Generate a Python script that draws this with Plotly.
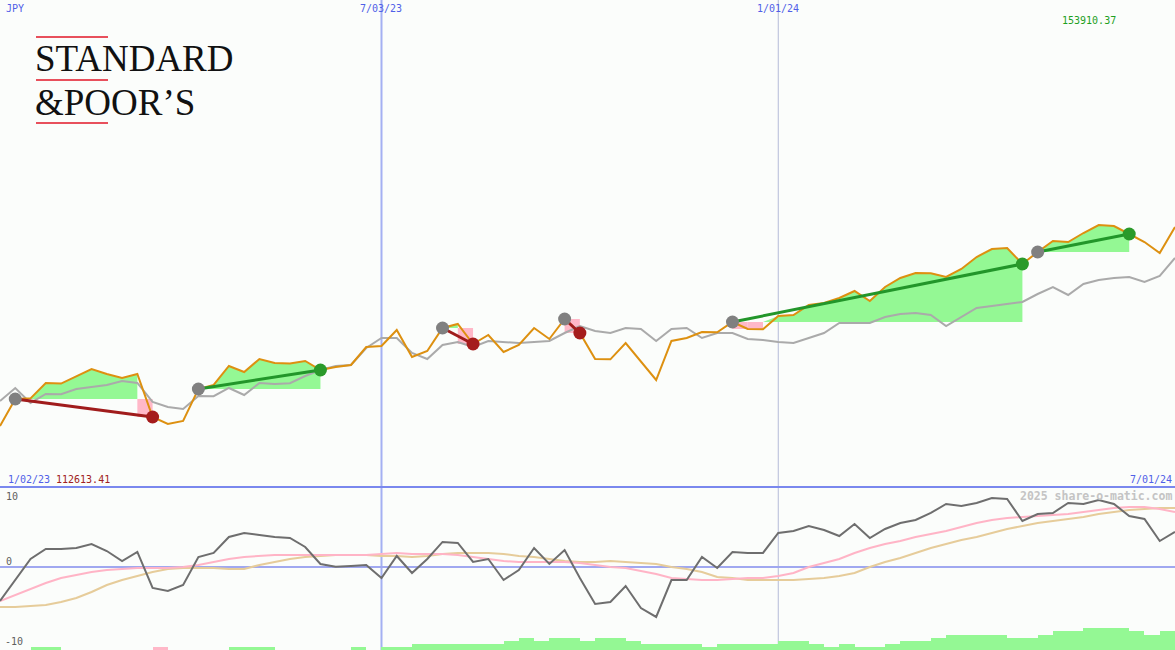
import plotly.graph_objects as go
import pandas as pd

# ---------------- data (weekly) ----------------
dates = pd.date_range("2023-01-09", periods=78, freq="7D")

close = [112613.41, 118220, 118350, 121540, 121420, 122992, 124445, 123407, 122577, 123407,
         114485, 113032, 113655, 120295, 121125, 125067, 123822, 126520, 125690, 125600,
         126105, 124237, 124860, 125275, 129010, 129217, 132537, 126935, 128180, 132952,
         133782, 129632, 131500, 127972, 129425, 132952, 130670, 134820, 131915, 126520,
         126450, 129840, 125897, 122162, 130255, 130877, 132122, 132050, 134197, 132745,
         132700, 135442, 135650, 137725, 138140, 139177, 140630, 138555, 141460, 143327,
         144365, 144300, 143535, 145195, 147685, 149345, 149552, 146232, 148722, 151005,
         150797, 152665, 154325, 154117, 152457, 150797, 148515, 153910.37]

avg = [117805, 120502, 117390, 119257, 119200, 120295, 120710, 121125, 121955, 121540,
       117597, 116560, 116145, 118842, 118800, 120502, 119050, 121540, 121332, 121500,
       122992, 124237, 125067, 125275, 128802, 130877, 130850, 127765, 126520, 129425,
       130047, 129010, 130255, 130047, 129840, 130047, 130255, 131915, 133367, 132330,
       131915, 132952, 132745, 130255, 132745, 132952, 130877, 131915, 131900, 130670,
       130462, 130047, 129840, 130877, 131915, 133990, 133950, 133990, 135235, 135857,
       136065, 135650, 133367, 135235, 137102, 137517, 137932, 138347, 140007, 141460,
       139800, 142082, 142912, 143327, 143535, 142497, 143742, 147477]

momentum = [-4.39, -1.68, 1.03, 2.32, 2.32, 2.45, 2.97, 2.06, 0.77, 1.94,
            -2.71, -3.10, -2.32, 1.29, 1.81, 3.87, 4.39, 4.13, 3.87, 3.74,
            2.58, 0.39, 0.04, 0.13, 0.26, -1.42, 1.42, -0.77, 1.03, 3.23,
            3.10, 0.65, 1.03, -1.68, -0.39, 2.45, 0.39, 2.19, -1.42, -4.77,
            -4.52, -2.45, -5.29, -6.45, -1.68, -1.68, 1.29, -0.13, 1.94, 1.81,
            1.81, 4.39, 4.65, 5.29, 4.77, 4.00, 5.55, 3.74, 4.90, 5.68,
            6.06, 6.97, 8.13, 7.87, 8.26, 8.90, 8.77, 5.94, 6.84, 6.97,
            8.26, 8.13, 8.65, 8.13, 6.58, 6.19, 3.35, 4.52]

mom_fast = [-4.39, -3.61, -2.84, -2.06, -1.42, -1.03, -0.65, -0.39, -0.26, -0.13,
            -0.13, -0.13, 0.0, 0.26, 0.65, 1.03, 1.29, 1.42, 1.55, 1.55,
            1.55, 1.55, 1.55, 1.55, 1.55, 1.68, 1.81, 1.68, 1.68, 1.68,
            1.55, 1.29, 1.03, 0.77, 0.65, 0.65, 0.65, 0.65, 0.52, 0.26,
            0.0, -0.13, -0.52, -0.90, -1.42, -1.55, -1.68, -1.68, -1.55, -1.42,
            -1.42, -1.16, -0.77, 0.0, 0.52, 1.03, 1.81, 2.45, 2.97, 3.35,
            3.87, 4.26, 4.65, 5.16, 5.68, 6.06, 6.32, 6.45, 6.58, 6.71,
            6.84, 7.10, 7.35, 7.61, 7.74, 7.74, 7.48, 7.10]

mom_slow = [-5.16, -5.16, -5.03, -4.90, -4.52, -4.00, -3.23, -2.32, -1.68, -1.16,
            -0.65, -0.26, -0.13, -0.13, -0.13, -0.26, -0.26, 0.26, 0.65, 1.03,
            1.29, 1.42, 1.55, 1.55, 1.55, 1.42, 1.42, 1.29, 1.42, 1.68,
            1.81, 1.81, 1.81, 1.68, 1.42, 1.29, 1.03, 0.77, 0.65, 0.65,
            0.77, 0.65, 0.52, 0.39, 0.0, -0.26, -0.65, -1.29, -1.42, -1.68,
            -1.68, -1.68, -1.68, -1.55, -1.42, -1.16, -0.77, 0.0, 0.65, 1.16,
            1.81, 2.45, 2.97, 3.48, 3.87, 4.39, 4.90, 5.29, 5.68, 5.94,
            6.19, 6.45, 6.84, 7.10, 7.35, 7.48, 7.61, 7.61]

strength = [0, 0, 0, 1, 1, 0, 0, 0, 0, 0,
            0, -1, 0, 0, 0, 0, 1, 1, 1, 0,
            0, 0, 0, 0, 1, 0, 1, 1, 2, 2,
            2, 2, 2, 2, 3, 4, 3, 4, 4, 3,
            4, 4, 3, 2, 2, 2, 2, 1, 2, 2,
            2, 2, 3, 3, 2, 1, 2, 1, 1, 2,
            3, 3, 4, 5, 5, 5, 5, 4, 4, 5,
            6, 6, 7, 7, 7, 6, 5, 6]

trade_entry = [1, 13, 29, 37, 48, 68]
trade_exit = [10, 21, 31, 38, 67, 74]

currency = "JPY"
first_date_label = "1/02/23"
first_value_label = "112613.41"
last_date_label = "7/01/24"
last_value_label = "153910.37"
mark_dates = ["2023-07-03", "2024-01-01"]
mark_labels = ["7/03/23", "1/01/24"]
osc_ticks = [10, 0, -10]
credit = "2025 share-o-matic.com"

# ---------------- styling ----------------
W, H = 1175, 650
split = 163 / H
BG = "#fbfdfb"
GREEN_FILL = "#94f894"
PINK_FILL = "#ffb8c8"
ORANGE = "#dd9010"
MONO = "DejaVu Sans Mono"

def px(x):
    return x / W

def py(y):
    return 1 - y / H

fig = go.Figure()

# ---- trade fills ----
for a, b in zip(trade_entry, trade_exit):
    e = close[a]
    last_up = a
    for i in range(a, b + 1):
        if close[i] >= e:
            last_up = i
    idx = list(range(a, last_up + 1))
    xs = [dates[i] for i in idx] + [dates[i] for i in reversed(idx)]
    ys = [max(close[i], e) for i in idx] + [e for _ in idx]
    fig.add_trace(go.Scatter(x=xs, y=ys, fill="toself", fillcolor=GREEN_FILL, mode="none",
                             hoverinfo="skip", showlegend=False, yaxis="y"))
    for i in range(a + 1, b + 1):
        if close[i] < e:
            x0, x1 = dates[i - 1], dates[i]
            fig.add_trace(go.Scatter(x=[x0, x1, x1, x0, x0], y=[e, e, close[i], close[i], e],
                                     fill="toself", fillcolor=PINK_FILL, mode="none",
                                     hoverinfo="skip", showlegend=False, yaxis="y"))

# ---- price lines ----
fig.add_trace(go.Scatter(x=dates, y=avg, mode="lines", line=dict(color="#aaaaaa", width=2),
                         showlegend=False, yaxis="y"))
fig.add_trace(go.Scatter(x=dates, y=close, mode="lines", line=dict(color=ORANGE, width=2),
                         showlegend=False, yaxis="y"))

# ---- trade lines and markers ----
for a, b in zip(trade_entry, trade_exit):
    win = close[b] > close[a]
    col = "#22962a" if win else "#a01c1c"
    fig.add_trace(go.Scatter(x=[dates[a], dates[b]], y=[close[a], close[b]], mode="lines",
                             line=dict(color=col, width=3), showlegend=False, yaxis="y"))
for a, b in zip(trade_entry, trade_exit):
    win = close[b] > close[a]
    col = "#2a9a2a" if win else "#a51c1c"
    fig.add_trace(go.Scatter(x=[dates[a]], y=[close[a]], mode="markers",
                             marker=dict(color="#808080", size=13, line=dict(width=0)),
                             showlegend=False, yaxis="y"))
    fig.add_trace(go.Scatter(x=[dates[b]], y=[close[b]], mode="markers",
                             marker=dict(color=col, size=13, line=dict(width=0)),
                             showlegend=False, yaxis="y"))

# ---- oscillator panel ----
fig.add_trace(go.Scatter(x=dates, y=mom_slow, mode="lines", line=dict(color="#e6cc9a", width=2),
                         showlegend=False, yaxis="y2"))
fig.add_trace(go.Scatter(x=dates, y=mom_fast, mode="lines", line=dict(color="#ffb4c6", width=2),
                         showlegend=False, yaxis="y2"))
fig.add_trace(go.Scatter(x=dates, y=momentum, mode="lines", line=dict(color="#6e6e6e", width=2),
                         showlegend=False, yaxis="y2"))

bar_x = [d - pd.Timedelta(days=3.5) for d in dates]
bar_col = [GREEN_FILL if s >= 0 else PINK_FILL for s in strength]
fig.add_trace(go.Bar(x=bar_x, y=[abs(s) for s in strength], width=7 * 24 * 3600 * 1000,
                     marker=dict(color=bar_col, line=dict(width=0)), showlegend=False,
                     yaxis="y3"))

# ---- shapes ----
shapes = []
shapes.append(dict(type="line", xref="x", yref="paper", x0=mark_dates[0], x1=mark_dates[0],
                   y0=0, y1=1, line=dict(color="#a4b0f2", width=2), layer="below"))
shapes.append(dict(type="line", xref="x", yref="paper", x0=mark_dates[1], x1=mark_dates[1],
                   y0=0, y1=1, line=dict(color="#b4bad8", width=1), layer="below"))
shapes.append(dict(type="line", xref="paper", yref="y2", x0=0, x1=1, y0=0, y1=0,
                   line=dict(color="#a0a8f0", width=2), layer="below"))
shapes.append(dict(type="line", xref="paper", yref="paper", x0=0, x1=1, y0=split, y1=split,
                   line=dict(color="#7a88ee", width=2)))
for yy in (37, 80, 123):
    shapes.append(dict(type="line", xref="paper", yref="paper", x0=px(36), x1=px(108),
                       y0=py(yy), y1=py(yy), line=dict(color="#e8505c", width=2)))

# ---- annotations ----
ann = []
def text(x, y, s, color, size=10, xanchor="left", xref="paper", family=MONO, bold=False):
    ann.append(dict(x=x, y=py(y), xref=xref, yref="paper", text=("<b>%s</b>" % s) if bold else s,
                    showarrow=False, xanchor=xanchor, yanchor="middle", borderpad=0,
                    font=dict(family=family, size=size, color=color)))

text(px(5), 8, currency, "#5060e8")
for d, lab in zip(mark_dates, mark_labels):
    text(d, 8, lab, "#5060e8", xanchor="center", xref="x")
text(px(1117), 20, last_value_label, "#1ea01e", xanchor="right")
text(px(7), 479, first_date_label, "#5060e8")
text(px(55), 479, first_value_label, "#a02020")
text(px(1173), 479, last_date_label, "#5060e8", xanchor="right")
for v, yy, xx in zip(osc_ticks, (496, 561, 641), (5, 5, 4)):
    text(px(xx), yy, str(v), "#606060")
text(px(1173), 496, credit, "#c4c4c4", size=11.5, xanchor="right", bold=True)

# logo
text(px(34), 59, "STANDARD", "#111111", size=37, family="Liberation Serif")
text(px(34), 102.5, "&amp;POOR\u2019S", "#111111", size=37, family="Liberation Serif")

fig.update_layout(
    width=W, height=H, autosize=False,
    margin=dict(l=0, r=0, t=0, b=0),
    paper_bgcolor=BG, plot_bgcolor=BG,
    showlegend=False,
    bargap=0,
    xaxis=dict(type="date", range=["2023-01-09", "2024-07-01"], visible=False, showgrid=False),
    yaxis=dict(domain=[split, 1], range=[99955, 201017], visible=False, showgrid=False),
    yaxis2=dict(domain=[0, split], range=[-10.71, 10.32], visible=False, showgrid=False),
    yaxis3=dict(overlaying="y2", range=[0, 52.6], visible=False, showgrid=False),
    shapes=shapes,
    annotations=ann,
)

fig.write_html("out.html", config={"displayModeBar": False},
               post_script="document.body.style.margin='0px';")
